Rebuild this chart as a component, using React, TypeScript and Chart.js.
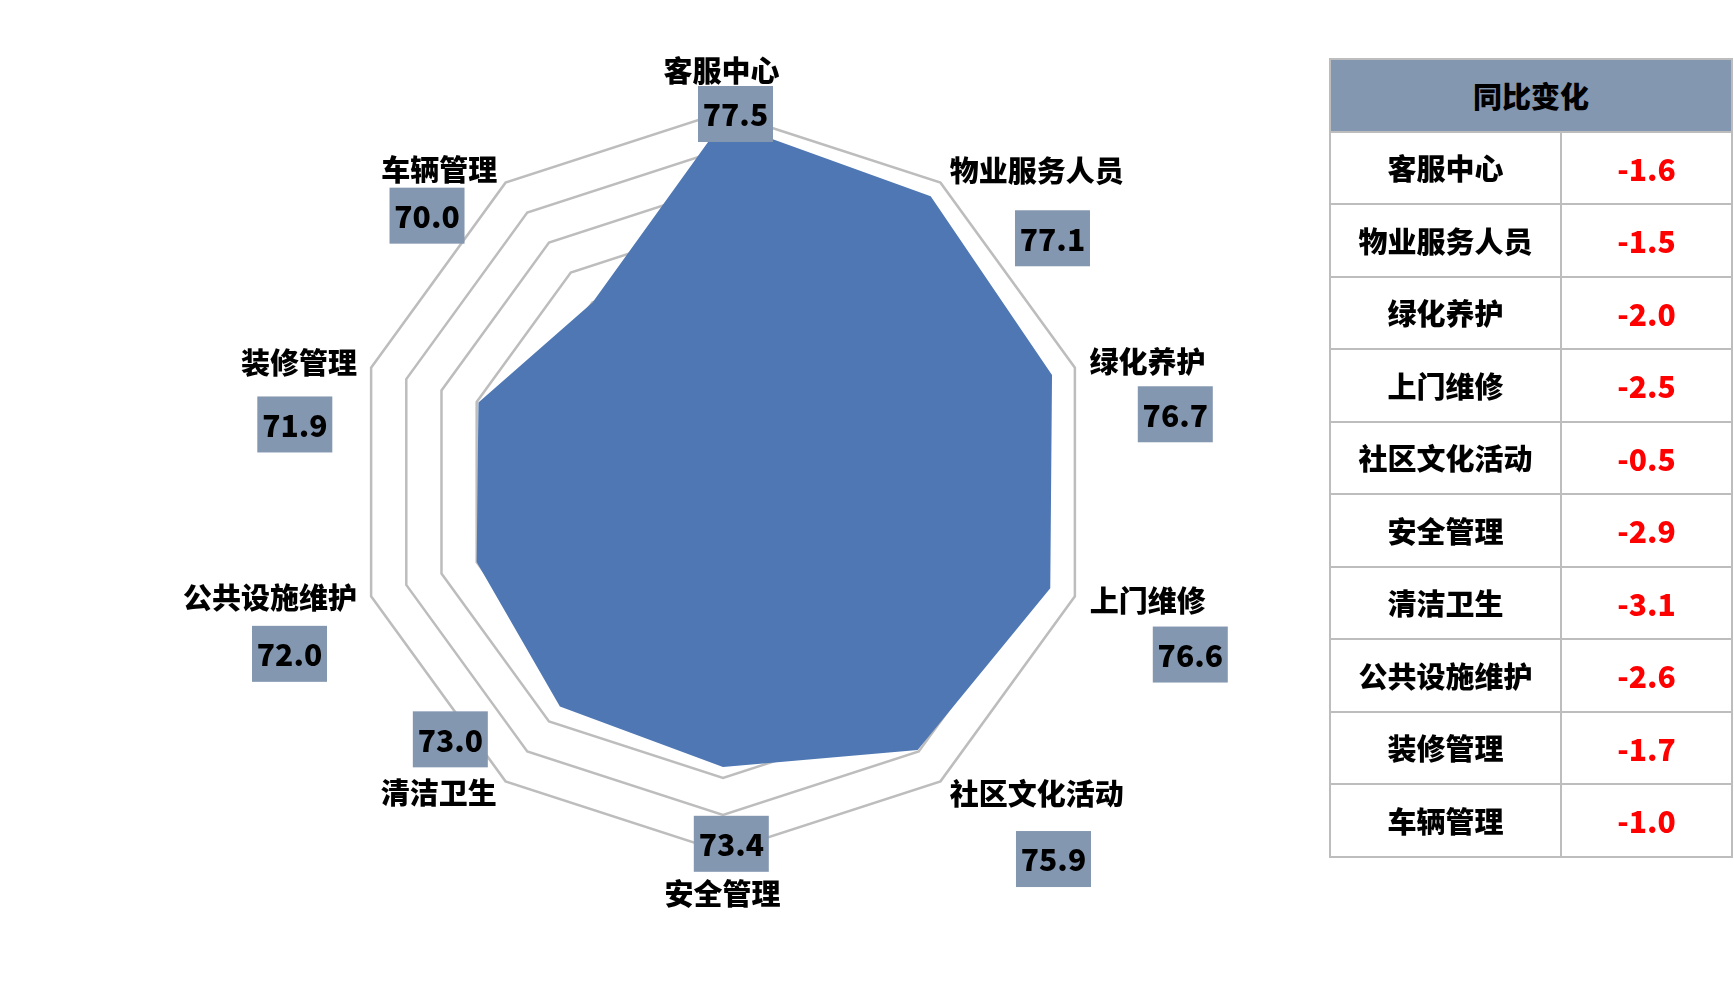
import React, { useEffect, useRef } from 'react';
import { Chart, registerables } from 'chart.js';

Chart.register(...registerables);

// ---------------- data ----------------
const categories = ['客服中心', '物业服务人员', '绿化养护', '上门维修', '社区文化活动', '安全管理', '清洁卫生', '公共设施维护', '装修管理', '车辆管理'];
const scores = [77.5, 77.1, 76.7, 76.6, 75.9, 73.4, 73.0, 72.0, 71.9, 70.0];
const yoyChange = [-1.6, -1.5, -2.0, -2.5, -0.5, -2.9, -3.1, -2.6, -1.7, -1.0];
const tableTitle = '同比变化';
const axisMin = 58;
const axisMax = 78;
const axisStep = 2;

// ---------------- layout (offsets from each axis' outer vertex) ----------------
const labelOffsets: [number, number][] = [
  [-1.5, -41.5], [96.2, -11.2], [72.6, -5.2], [72.9, 4.2], [96.2, 12.4],
  [-0.5, 42], [-66.7, 11.2], [-101.1, 2], [-72.1, -4.7], [-66.3, -12.2],
];
const boxOffsets: [number, number][] = [
  [12.5, 2], [112, 55.6], [100.4, 46.6], [115.4, 58.2], [113, 77.7],
  [8.3, -8.2], [-55.2, -42], [-81.6, 57.5], [-76.3, 56.8], [-78.5, 33],
];

const FONT = '"Noto Sans CJK SC", "Noto Sans", sans-serif';
const WEIGHT = 900;
const FILL = '#4E77B3';
const BOX = '#8497B0';
const GRID = '#BDBDBD';

const W = 1734;
const H = 1007;

const labelPlugin = {
  id: 'radarLabels',
  afterDatasetsDraw(chart: any) {
    const scale = chart.scales.r;
    const ctx = chart.ctx as CanvasRenderingContext2D;
    const data = chart.data.datasets[0].data as number[];
    ctx.save();
    ctx.textAlign = 'center';
    ctx.textBaseline = 'middle';
    chart.data.labels.forEach((name: string, i: number) => {
      const p = scale.getPointPosition(i, scale.drawingArea);
      const [lx, ly] = labelOffsets[i];
      const [bx, by] = boxOffsets[i];
      ctx.font = `${WEIGHT} 29px ${FONT}`;
      ctx.fillStyle = '#000';
      ctx.fillText(name, p.x + lx, p.y + ly);
      const cx = p.x + bx;
      const cy = p.y + by;
      ctx.fillStyle = BOX;
      ctx.fillRect(cx - 37.5, cy - 28, 75, 56);
      ctx.fillStyle = '#000';
      ctx.font = `${WEIGHT} 30px ${FONT}`;
      ctx.fillText(data[i].toFixed(1), cx, cy + 1);
    });
    ctx.restore();
  },
};

function RadarChart() {
  const ref = useRef<HTMLCanvasElement | null>(null);
  useEffect(() => {
    if (!ref.current) return;
    const chart = new Chart(ref.current, {
      type: 'radar',
      data: {
        labels: categories,
        datasets: [
          {
            data: scores,
            backgroundColor: FILL,
            borderWidth: 0,
            pointRadius: 0,
            pointHoverRadius: 0,
            fill: 'start',
          },
        ],
      },
      options: {
        responsive: false,
        animation: false,
        devicePixelRatio: 1,
        layout: { padding: { left: 353, right: 641, top: 112, bottom: 155 } },
        plugins: { legend: { display: false }, tooltip: { enabled: false } },
        scales: {
          r: {
            min: axisMin,
            max: axisMax,
            ticks: { stepSize: axisStep, display: false },
            grid: { color: GRID, lineWidth: 2.5 },
            angleLines: { display: false },
            pointLabels: { display: false },
          },
        },
      } as any,
      plugins: [labelPlugin],
    });
    return () => chart.destroy();
  }, []);
  return <canvas ref={ref} width={W} height={H} style={{ position: 'absolute', left: 0, top: 0 }} />;
}

function ChangeTable() {
  const x0 = 1330;
  const xMid = 1561;
  const x1 = 1732;
  const y0 = 59;
  const rowH = 72.5;
  const border = `2px solid ${GRID}`;
  const cells: React.ReactNode[] = [];
  const cellStyle = (left: number, top: number, width: number, height: number): React.CSSProperties => ({
    position: 'absolute',
    left: left - 1,
    top: top - 1,
    width: width + 2,
    height: height + 2,
    boxSizing: 'border-box',
    border,
    display: 'flex',
    alignItems: 'center',
    justifyContent: 'center',
    fontFamily: FONT,
    fontWeight: WEIGHT,
    fontSize: 29,
    lineHeight: 1,
  });
  cells.push(
    <div key="h" style={{ ...cellStyle(x0, y0, x1 - x0, rowH), background: BOX, color: '#000' }}>
      {tableTitle}
    </div>
  );
  categories.forEach((c, i) => {
    const top = y0 + rowH * (i + 1);
    cells.push(
      <div key={`c${i}`} style={{ ...cellStyle(x0, top, xMid - x0, rowH), color: '#000' }}>
        {c}
      </div>
    );
    cells.push(
      <div key={`v${i}`} style={{ ...cellStyle(xMid, top, x1 - xMid, rowH), color: '#FF0000', fontSize: 30 }}>
        {yoyChange[i].toFixed(1)}
      </div>
    );
  });
  return <>{cells}</>;
}

export default function App() {
  useEffect(() => {
    document.body.style.margin = '0';
  }, []);
  return (
    <div style={{ position: 'absolute', left: 0, top: 0, width: W, height: H, overflow: 'hidden', background: '#fff' }}>
      <RadarChart />
      <ChangeTable />
    </div>
  );
}
